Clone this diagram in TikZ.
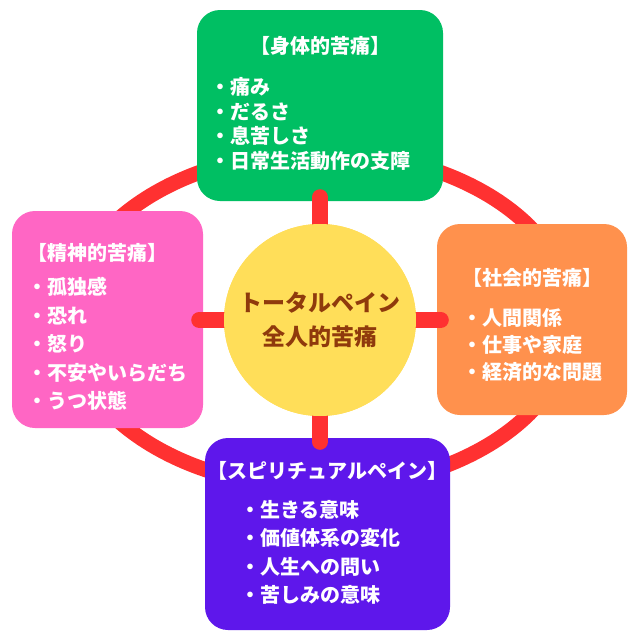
\documentclass[tikz,border=0pt]{standalone}
\usepackage{fontspec}
\setmainfont{Noto Sans CJK JP}
\definecolor{cgreen}{HTML}{00BF63}
\definecolor{cpink}{HTML}{FF66C4}
\definecolor{corange}{HTML}{FF914D}
\definecolor{cpurple}{HTML}{5E17EB}
\definecolor{cyellow}{HTML}{FFDE59}
\definecolor{cred}{HTML}{FF3131}
\definecolor{cbrown}{HTML}{8F3A0C}
\tikzset{
  box/.style={rounded corners=23pt, inner sep=0pt},
  spoke/.style={draw=cred, line width=16pt, line cap=round, shorten >=-4pt},
  ttl/.style={text=white, font=\bfseries\fontsize{20}{24}\selectfont, inner sep=0pt},
  items/.style={text=white, align=left, inner sep=0pt},
  hub/.style={circle, fill=cyellow, minimum size=192pt, inner sep=0pt},
  hubtext/.style={text=cbrown, font=\bfseries\fontsize{23}{28}\selectfont, inner sep=0pt},
}
\begin{document}
\begin{tikzpicture}[x=1pt,y=-1pt]
\useasboundingbox (0,0) rectangle (640,640);
\fill[white] (0,0) rectangle (640,640);
% big ring
\draw[cred, line width=15pt] (320,320) ellipse [x radius=252, y radius=168];
% boxes
\node[box, fill=cgreen, minimum width=246pt, minimum height=191pt] (phys) at (320,105.5) {};
\node[box, fill=cpink, minimum width=191pt, minimum height=217pt] (ment) at (107.5,319.5) {};
\node[box, fill=corange, minimum width=190pt, minimum height=191pt] (soc) at (532,319.5) {};
\node[box, fill=cpurple, minimum width=245pt, minimum height=192pt] (spir) at (327.5,534) {};
% core
\node[hub] (core) at (320,320) {};
\coordinate (physB) at (core |- phys.south);
\coordinate (spirT) at (core |- spir.north);
\coordinate (mentR) at (core -| ment.east);
\coordinate (socL) at (core -| soc.west);
% spokes
\draw[spoke] (core.center) -- (physB);
\draw[spoke] (core.center) -- (spirT);
\draw[spoke] (core.center) -- (mentR);
\draw[spoke] (core.center) -- (socL);
\node[hub] (corecover) at (core.center) {};
% core text
\node[hubtext] (t1) at (320,303) {トータルペイン};
\node[hubtext] (t2) at (320,337) {全人的苦痛};
% physical
\node[ttl] (physTitle) at (320,46) {【身体的苦痛】};
\node[items, anchor=west, font=\bfseries\fontsize{20}{24.6}\selectfont] (physList) at (210,124)
  {・痛み\\・だるさ\\・息苦しさ\\・日常生活動作の支障};
% mental
\node[ttl, anchor=west] (mentTitle) at (27,253) {【精神的苦痛】};
\node[items, anchor=west, font=\bfseries\fontsize{20}{28.5}\selectfont] (mentList) at (27,344)
  {・孤独感\\・恐れ\\・怒り\\・不安やいらだち\\・うつ状態};
% social
\node[ttl] (socTitle) at (532,278) {【社会的苦痛】};
\node[items, anchor=west, font=\bfseries\fontsize{20}{27}\selectfont] (socList) at (462,345)
  {・人間関係\\・仕事や家庭\\・経済的な問題};
% spiritual
\node[ttl] (spirTitle) at (327.5,471) {【スピリチュアルペイン】};
\node[items, anchor=west, font=\bfseries\fontsize{20}{28.3}\selectfont] (spirList) at (240,552.5)
  {・生きる意味\\・価値体系の変化\\・人生への問い\\・苦しみの意味};
\end{tikzpicture}
\end{document}
